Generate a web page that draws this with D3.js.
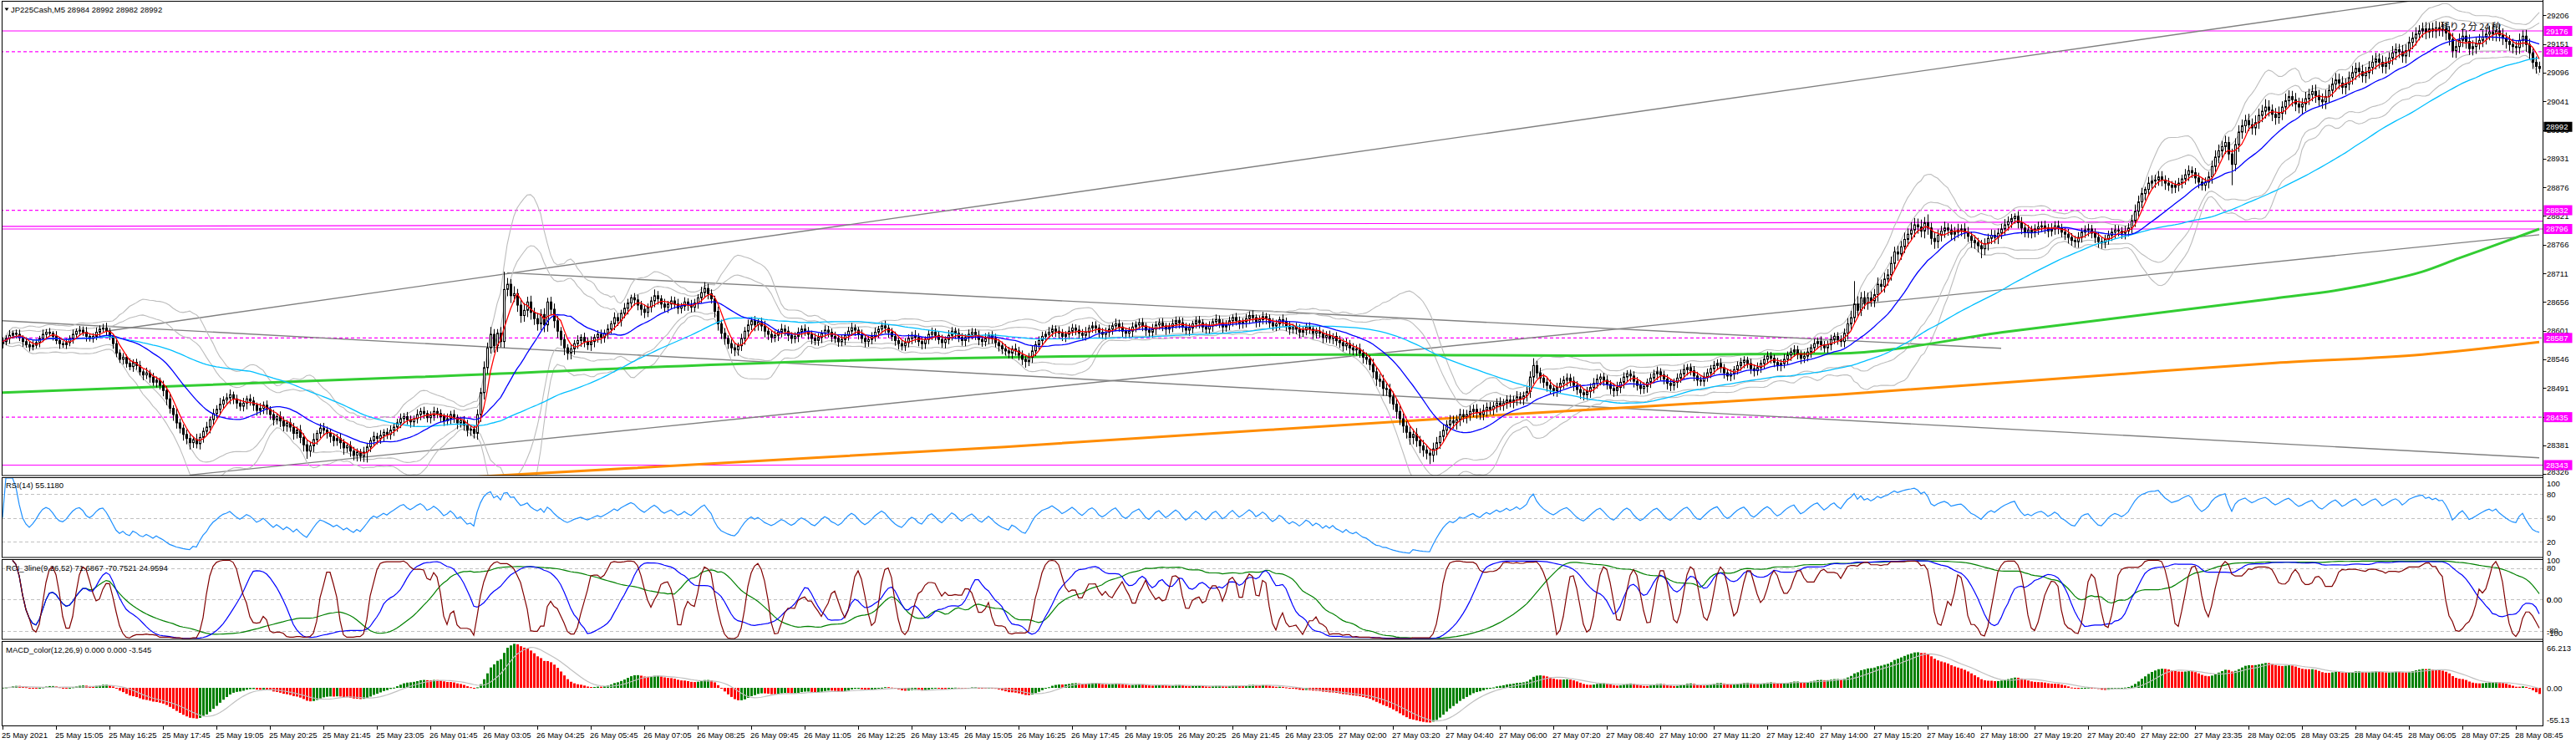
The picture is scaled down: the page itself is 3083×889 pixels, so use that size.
<!DOCTYPE html>
<html><head><meta charset="utf-8">
<script src="https://cdn.jsdelivr.net/npm/d3@7"></script>
<style>
body{margin:0;background:#fff;}
svg text{font-family:"Liberation Sans",Arial,sans-serif;font-size:9.5px;fill:#000;}
</style></head>
<body><svg id="c" width="3083" height="889"></svg>
<script>
// ---------------- DATA ----------------
const symbolHeader = "JP225Cash,M5  28984 28992 28982 28992";
const rsiHeader = "RSI(14) 55.1180";
const rciHeader = "RCI_3line(9,26,52) 71.6867 -70.7521 24.9594";
const macdHeader = "MACD_color(12,26,9) 0.000 0.000 -3.545";
const countdownText = "残り 2 分 24 秒";

const firstOpen = 28576;
const closes = [
28580,28586,28592,28596,28594,28588,28580,28574,28570,28573,
28578,28586,28594,28598,28596,28590,28582,28576,28574,28578,
28586,28594,28600,28602,28598,28590,28586,28590,28598,28604,
28606,28600,28590,28576,28558,28546,28550,28538,28532,28540,
28534,28522,28516,28520,28512,28502,28506,28496,28486,28470,
28452,28440,28424,28414,28402,28394,28386,28392,28384,28396,
28408,28416,28430,28442,28450,28460,28468,28472,28478,28470,
28462,28456,28462,28470,28466,28458,28448,28452,28458,28450,
28440,28430,28436,28428,28418,28424,28416,28404,28410,28396,
28382,28370,28380,28392,28404,28414,28410,28404,28398,28390,
28394,28386,28376,28380,28370,28362,28368,28360,28368,28378,
28390,28398,28394,28400,28406,28402,28410,28416,28424,28432,
28436,28430,28426,28432,28440,28446,28442,28434,28438,28446,
28442,28436,28428,28432,28440,28434,28424,28428,28420,28410,
28412,28404,28440,28482,28530,28568,28594,28572,28596,28580,
28680,28690,28668,28672,28650,28630,28640,28656,28636,28624,
28614,28632,28612,28656,28642,28620,28600,28584,28568,28558,
28566,28576,28582,28588,28580,28574,28580,28588,28594,28588,
28596,28604,28614,28626,28620,28634,28644,28654,28664,28660,
28650,28642,28636,28646,28658,28668,28662,28652,28646,28652,
28658,28652,28644,28648,28656,28650,28646,28654,28664,28674,
28682,28672,28662,28638,28614,28596,28586,28576,28568,28564,
28572,28586,28600,28612,28620,28612,28618,28610,28600,28594,
28588,28592,28598,28604,28600,28592,28586,28590,28598,28604,
28600,28594,28586,28582,28588,28596,28602,28598,28590,28586,
28580,28584,28592,28600,28606,28602,28594,28586,28580,28584,
28590,28598,28604,28610,28606,28598,28590,28582,28576,28572,
28578,28586,28592,28588,28580,28576,28584,28594,28598,28592,
28584,28578,28584,28592,28600,28596,28588,28582,28588,28594,
28598,28592,28584,28580,28586,28592,28586,28578,28572,28566,
28562,28558,28566,28562,28554,28546,28542,28550,28562,28574,
28582,28590,28594,28598,28604,28600,28596,28590,28594,28600,
28606,28602,28596,28592,28598,28606,28610,28606,28598,28594,
28598,28604,28610,28614,28608,28600,28596,28600,28608,28612,
28616,28610,28602,28598,28604,28612,28616,28610,28604,28608,
28614,28620,28616,28608,28602,28606,28614,28620,28616,28608,
28604,28610,28618,28622,28616,28608,28612,28620,28626,28620,
28614,28618,28624,28630,28626,28618,28622,28628,28624,28616,
28610,28614,28622,28618,28610,28604,28608,28604,28598,28602,
28608,28604,28596,28600,28596,28588,28592,28586,28590,28582,
28578,28572,28576,28568,28564,28566,28558,28550,28546,28536,
28522,28508,28504,28490,28488,28474,28460,28446,28432,28418,
28406,28396,28402,28390,28380,28372,28366,28362,28374,28386,
28398,28410,28420,28428,28424,28430,28440,28436,28440,28446,
28450,28444,28440,28448,28454,28450,28456,28462,28458,28462,
28468,28464,28468,28474,28470,28476,28484,28512,28534,28520,
28510,28502,28496,28490,28486,28492,28500,28506,28510,28504,
28496,28488,28482,28478,28484,28492,28500,28508,28512,28506,
28498,28490,28486,28492,28502,28512,28518,28514,28504,28496,
28490,28494,28502,28510,28518,28522,28516,28508,28500,28496,
28502,28510,28518,28526,28530,28524,28514,28506,28504,28512,
28520,28528,28534,28538,28530,28520,28514,28518,28526,28534,
28540,28544,28538,28528,28524,28530,28538,28546,28552,28548,
28540,28534,28538,28546,28554,28560,28564,28556,28548,28552,
28560,28568,28576,28580,28574,28568,28574,28584,28590,28584,
28580,28596,28614,28626,28652,28640,28664,28654,28664,28658,
28670,28690,28686,28700,28708,28730,28752,28748,28762,28776,
28786,28794,28804,28800,28792,28808,28798,28778,28772,28784,
28792,28798,28794,28786,28790,28794,28796,28790,28782,28774,
28770,28764,28758,28768,28778,28784,28780,28788,28796,28804,
28810,28816,28820,28808,28798,28790,28794,28790,28796,28800,
28802,28798,28792,28796,28802,28798,28790,28786,28780,28774,
28772,28780,28790,28794,28796,28788,28780,28772,28770,28776,
28784,28790,28794,28792,28788,28792,28798,28812,28830,28848,
28864,28872,28884,28888,28890,28896,28890,28884,28880,28876,
28880,28884,28892,28900,28908,28904,28894,28886,28880,28886,
28896,28916,28934,28946,28954,28962,28940,28920,28958,28982,
28994,29004,28996,28990,29000,29014,29022,29030,29024,29016,
29010,29018,29030,29042,29050,29044,29036,29030,29036,29046,
29054,29060,29052,29044,29040,29050,29062,29074,29082,29076,
29068,29074,29086,29096,29104,29098,29090,29096,29106,29116,
29122,29116,29108,29114,29124,29134,29140,29136,29128,29138,
29154,29162,29170,29176,29180,29174,29180,29176,29182,29178,
29180,29172,29160,29138,29146,29158,29166,29156,29142,29146,
29152,29158,29164,29170,29174,29170,29176,29168,29162,29156,
29150,29146,29144,29158,29166,29150,29134,29116,29108,29104
];
const upWick = [
8,6,10,5,7,9,4,8,6,10, 7,5,9,6,8,4,10,7,5,8, 6,9,5,8,7,10,4,6,9,7, 8,10,6,5,9,7,8,5,10,6,
7,9,5,10,6,8,7,5,9,8, 10,6,12,8,7,9,10,6,11,8, 7,10,6,9,8,12,7,9,10,6, 8,7,10,6,9,8,5,10,7,9,
6,9,7,10,8,6,9,8,7,10, 8,10,7,12,6,9,10,7,8,6, 9,10,7,6,9,8,7,6,10,8, 6,9,7,10,6,8,9,6,8,10,
7,9,8,6,10,7,9,6,8,9, 7,8,6,10,7,9,6,8,9,10, 8,7,10,9,12,10,14,10,8,12, 34,12,10,14,9,12,14,10,12,9,
11,10,12,8,10,11,9,8,10,7, 8,7,10,6,9,8,10,6,8,9, 7,9,6,10,8,7,10,8,6,9, 10,8,9,7,8,12,9,7,10,6,
9,8,10,6,9,7,10,8,7,11, 12,9,8,6,9,8,10,6,8,9, 6,9,8,10,7,9,6,8,10,7, 8,9,6,10,8,9,6,8,9,7,
9,8,7,10,8,6,9,8,7,9, 8,9,6,8,10,7,6,9,8,7, 8,9,6,7,10,7,8,9,6,8, 9,8,7,10,8,9,6,8,9,7,
8,9,6,10,8,7,9,8,6,9, 8,7,9,8,10,6,8,9,7,8, 9,8,6,10,8,9,6,8,10,7, 8,9,6,10,8,7,9,8,6,9,
8,7,9,8,10,6,8,9,7,8, 9,8,6,10,8,9,6,8,9,7, 8,9,6,7,10,7,8,9,6,8, 9,8,7,10,8,9,6,8,9,7,
8,9,6,10,8,7,9,8,6,9, 8,7,9,8,10,6,8,9,7,8, 9,8,6,10,8,9,6,8,9,7, 8,9,6,7,10,7,8,9,6,8,
9,8,10,7,9,8,10,7,9,8, 11,9,10,12,9,11,10,9,11,10, 9,11,10,12,9,11,10,9,12,11, 10,12,9,11,10,9,11,10,9,11,
9,10,8,11,9,10,8,9,11,8, 9,10,8,11,9,8,10,11,14,9, 10,8,9,11,8,9,10,8,9,8, 9,8,10,7,9,8,10,9,7,8,
9,8,10,11,8,9,7,8,9,8, 9,8,7,9,8,10,7,8,9,8, 7,9,8,10,7,8,9,8,7,9, 8,7,9,8,10,7,8,9,7,8,
9,8,7,9,8,10,7,8,9,8, 7,9,8,10,7,8,9,8,7,9, 8,7,9,8,10,7,8,9,7,8, 8,9,11,13,44,15,11,13,10,12,
11,13,9,12,11,13,10,12,11,13, 11,15,13,12,14,11,16,10,12,11, 10,12,9,11,10,12,9,11,10,9, 10,9,11,10,9,11,10,9,10,11,
10,9,6,10,11,9,10,8,9,10, 9,10,8,11,9,10,8,9,10,8, 9,10,8,9,10,8,9,10,8,9, 9,8,10,9,8,10,9,11,13,12,
11,5,12,11,10,11,11,9,10,8, 9,10,8,11,10,8,9,10,8,9, 10,11,13,12,11,13,11,10,12,13, 12,11,13,12,14,13,12,15,13,11,
12,13,11,14,12,11,13,12,11,13, 11,12,13,11,12,13,11,12,13,12, 13,11,12,13,11,12,13,11,12,13, 12,11,13,12,11,13,12,11,13,12,
11,12,13,11,12,13,11,12,13,11, 12,11,13,12,11,13,12,11,13,12, 11,12,13,11,12,13,11,12,13,11, 12,11,10,13,11,12,11,10,11,9
];
const dnWick = [
9,7,10,6,8,7,10,6,9,7, 6,9,7,10,6,8,7,10,6,8, 7,10,6,9,7,10,6,8,7,10, 6,9,7,10,8,7,10,8,7,10,
8,7,10,8,11,7,10,8,11,12, 10,12,11,10,12,11,13,10,9,11, 10,9,12,10,9,11,10,9,12,10, 11,9,10,12,9,11,10,9,11,10,
10,11,9,12,10,11,9,12,10,11, 13,15,11,12,10,9,11,10,12,11, 10,12,13,9,11,10,12,10,11,20, 10,9,11,10,12,9,10,11,9,10,
10,9,11,10,9,11,10,9,11,10, 9,11,10,9,11,10,12,9,11,12, 11,10,12,14,13,12,11,13,12,11, 12,13,14,12,13,14,12,13,14,12,
13,12,14,13,12,14,13,12,14,13, 12,11,10,12,11,10,12,11,10,12, 10,11,9,12,10,11,9,12,10,11, 10,12,11,9,10,12,11,9,10,11,
10,9,11,10,9,11,10,9,11,10, 10,11,9,12,13,11,12,10,11,12, 11,10,12,11,10,12,11,10,12,11, 10,9,11,10,9,11,10,9,11,10,
9,10,11,9,10,11,9,10,11,9, 10,9,11,10,9,11,10,9,11,10, 9,10,11,9,10,11,9,10,11,9, 10,9,11,10,9,11,10,9,11,10,
9,10,11,9,10,11,9,10,11,9, 10,9,11,10,9,11,10,9,11,10, 9,10,11,9,10,11,12,9,11,10, 10,9,11,10,9,11,10,9,11,10,
9,10,11,9,10,11,9,10,11,9, 10,9,11,10,9,11,10,9,11,10, 9,10,11,9,10,11,9,10,11,9, 10,9,11,10,9,11,10,9,11,10,
9,10,11,9,10,11,9,10,11,9, 10,9,11,10,9,11,10,9,11,10, 9,10,11,9,10,11,9,10,11,9, 10,9,11,10,9,11,10,9,11,10,
10,11,9,12,10,11,9,12,10,11, 12,13,11,14,12,13,11,14,12,13, 12,14,13,12,14,13,12,17,13,12, 12,11,13,12,11,13,12,11,13,12,
11,12,10,11,12,10,11,12,10,11, 11,10,12,11,10,12,11,12,13,11, 10,11,12,10,11,12,10,11,12,10, 11,10,12,11,10,12,11,10,12,11,
10,11,12,10,11,12,10,11,12,10, 11,10,12,11,10,12,11,10,12,11, 10,11,9,10,11,9,10,11,9,10, 9,10,11,9,10,11,9,10,11,9,
10,11,9,10,11,9,10,11,9,10, 9,10,11,9,10,11,9,10,11,9, 10,11,9,10,11,9,10,11,9,10, 10,11,12,13,12,13,11,12,13,11,
12,13,11,12,13,11,12,13,11,12, 13,12,14,13,12,14,13,12,14,13, 12,13,11,12,13,11,12,13,11,14, 12,13,18,12,13,11,12,13,11,12,
11,12,10,11,12,10,11,12,10,11, 10,11,12,10,11,12,10,11,12,10, 11,12,10,11,12,10,11,12,12,11, 10,11,12,10,11,12,10,11,12,10,
12,13,11,12,13,11,12,13,11,12, 11,12,10,11,12,10,11,12,10,11, 12,13,14,12,13,14,12,40,13,14, 13,14,12,13,14,12,13,14,12,13,
14,12,13,14,12,13,14,12,13,14, 12,13,14,12,13,14,12,13,14,12, 13,14,12,13,14,12,13,14,12,13, 14,12,13,14,12,13,14,12,13,14,
12,13,14,12,13,14,12,13,14,12, 13,14,12,13,14,12,13,14,12,13, 14,12,13,14,12,13,14,12,13,14, 12,13,14,12,13,14,12,13,14,8
];

// long moving averages: [bar, price]
const greenMA = [[0,28482],[124,28512],[249,28543],[400,28555],[470,28553],[549,28557],[600,28599],[680,28663],[700,28680],[712,28695],[724,28714],[735,28740],[748,28770],[759,28796]];
const orangeMA = [[0,28270],[146,28322],[300,28378],[450,28440],[549,28478],[628,28515],[680,28539],[724,28555],[759,28579]];

// trend lines [bar0, price0, bar1, price1]
const trendLines = [
  [31, 28600, 759, 29269],
  [151, 28712, 598, 28567],
  [0, 28620, 759, 28357],
  [56, 28324, 759, 28785]
];
const levelLines = [
  {p0:29176, p1:29176, dash:false, label:"29176"},
  {p0:29136, p1:29136, dash:true,  label:"29136"},
  {p0:28832, p1:28832, dash:true,  label:"28832"},
  {p0:28801, p1:28811, dash:false, label:null},
  {p0:28796, p1:28796, dash:false, label:"28796"},
  {p0:28587, p1:28587, dash:true,  label:"28587"},
  {p0:28435, p1:28435, dash:true,  label:"28435"},
  {p0:28343, p1:28343, dash:false, label:"28343"}
];
const currentPrice = 28992;
const priceTicks = [29206,29151,29096,29041,28986,28931,28876,28821,28766,28711,28656,28601,28546,28491,28436,28381,28326];
const timeLabels = ["25 May 2021","25 May 15:05","25 May 16:25","25 May 17:45","25 May 19:05","25 May 20:25","25 May 21:45","25 May 23:05",
"26 May 01:45","26 May 03:05","26 May 04:25","26 May 05:45","26 May 07:05","26 May 08:25","26 May 09:45","26 May 11:05","26 May 12:25",
"26 May 13:45","26 May 15:05","26 May 16:25","26 May 17:45","26 May 19:05","26 May 20:25","26 May 21:45","26 May 23:05",
"27 May 02:00","27 May 03:20","27 May 04:40","27 May 06:00","27 May 07:20","27 May 08:40","27 May 10:00","27 May 11:20","27 May 12:40",
"27 May 14:00","27 May 15:20","27 May 16:40","27 May 18:00","27 May 19:20","27 May 20:40","27 May 22:00","27 May 23:35",
"28 May 02:05","28 May 03:25","28 May 04:45","28 May 06:05","28 May 07:25","28 May 08:45"];
const barsPerLabel = 16;
const rsiLevels = [80,50,20];
const rsiAxis = [["100",100],["80",80],["50",50],["20",20],["0",0]];
const rciLevels = [80,0,-80];
const rciAxis = [["100",100,-6],["80",80,0],["0.00",0,0],["0",0,0],["-80",-80,0],["-100",-100,-6]];
const macdAxis = [["66.213",66.213,6],["0.00",0,0],["-55.13",-55.13,-7]];

// ---------------- SCALES ----------------
const N = closes.length;
const svg = d3.select("#c");
const x = d3.scaleLinear().domain([0,759]).range([3,3039]);
const y = d3.scaleLinear().domain([28326,29206]).range([567.1,18.3]);
const yRsi = d3.scaleLinear().domain([0,100]).range([667,572]);
const yRci = d3.scaleLinear().domain([-100,100]).range([764,670.5]);
const yMacd = d3.scaleLinear().domain([-55.13,66.213]).range([868,769]);
const AX = 3043.5;
const panels = {
  main:{y0:1.5,y1:569},
  rsi:{y0:571.5,y1:667},
  rci:{y0:669.5,y1:765},
  macd:{y0:767.5,y1:868.5}
};

// ---------------- INDICATORS ----------------
const opens = closes.map((c,i)=> i===0 ? firstOpen : closes[i-1]);
const highs = closes.map((c,i)=> Math.max(opens[i],c) + (upWick[i]||0));
const lows  = closes.map((c,i)=> Math.min(opens[i],c) - (dnWick[i]||0));
function sma(arr,n){ return arr.map((v,i)=>{ const s=Math.max(0,i-n+1); return d3.mean(arr.slice(s,i+1)); }); }
function sd(arr,n){ return arr.map((v,i)=>{ const s=Math.max(0,i-n+1); const w=arr.slice(s,i+1); const m=d3.mean(w); return Math.sqrt(d3.mean(w.map(t=>(t-m)*(t-m)))); }); }
const ma5 = sma(closes,5), ma21 = sma(closes,21), ma75 = sma(closes,75);
const sd21 = sd(closes,21);
const bands = [2,3].flatMap(k=>[ma21.map((m,i)=>m+k*sd21[i]), ma21.map((m,i)=>m-k*sd21[i])]);

const rsi=[]; { let ag=0, al=0;
  for(let i=0;i<N;i++){ if(i===0){rsi.push(50);continue;}
    const d=closes[i]-closes[i-1], g=Math.max(d,0), l=Math.max(-d,0);
    if(i<=14){ ag=(ag*(i-1)+g)/i; al=(al*(i-1)+l)/i; } else { ag=(ag*13+g)/14; al=(al*13+l)/14; }
    rsi.push(al===0?100:100-100/(1+ag/al)); } }
function rci(n){ return closes.map((c,i)=>{ const m=Math.min(n,i+1); if(m<4) return null;
  const w=closes.slice(i-m+1,i+1);
  const srt=w.map((v,j)=>({v,j})).sort((a,b)=>b.v-a.v); const pr=new Array(m);
  let k=0; while(k<m){ let e=k; while(e+1<m && srt[e+1].v===srt[k].v) e++; const r=(k+e)/2+1; for(let t=k;t<=e;t++) pr[srt[t].j]=r; k=e+1; }
  let s=0; for(let j=0;j<m;j++){ const d=(m-j)-pr[j]; s+=d*d; }
  return (1-6*s/(m*(m*m-1)))*100; }); }
const rci9=rci(9), rci26=rci(26), rci52=rci(52);
let e12=closes[0], e26=closes[0];
const macd = closes.map(c=>{ e12+=2/13*(c-e12); e26+=2/27*(c-e26); return e12-e26; });
const macdSig = sma(macd,9);

// ---------------- DRAW ----------------
const defs = svg.append("defs");
Object.entries(panels).forEach(([k,p])=>{
  defs.append("clipPath").attr("id","clip-"+k).append("rect").attr("x",2.5).attr("y",p.y0).attr("width",AX-2.5).attr("height",p.y1-p.y0);
});
const gMain = svg.append("g").attr("clip-path","url(#clip-main)");

levelLines.forEach(l=>{
  gMain.append("line").attr("x1",x(0)-3).attr("x2",AX).attr("y1",y(l.p0)).attr("y2",y(l.p1))
    .attr("stroke","#ff00ff").attr("stroke-width",1.2).attr("stroke-dasharray",l.dash?"4,3":null);
});
trendLines.forEach(t=>{
  gMain.append("line").attr("x1",x(t[0])).attr("y1",y(t[1])).attr("x2",x(t[2])).attr("y2",y(t[3]))
    .attr("stroke","#808080").attr("stroke-width",1.4);
});
const lineI = (arr,ys)=>d3.line().defined(d=>d!=null).x((d,i)=>x(i)).y(d=>ys(d))(arr);
bands.forEach(b=> gMain.append("path").attr("d",lineI(b,y)).attr("fill","none").attr("stroke","#bcbcbc").attr("stroke-width",1.1));
const lineP = d3.line().x(d=>x(d[0])).y(d=>y(d[1])).curve(d3.curveMonotoneX);
gMain.append("path").attr("d",lineP(orangeMA)).attr("fill","none").attr("stroke","#ff8c00").attr("stroke-width",3);
gMain.append("path").attr("d",lineP(greenMA)).attr("fill","none").attr("stroke","#32cd32").attr("stroke-width",3);

const cg = gMain.append("g");
for(let i=0;i<N;i++){
  const cx = Math.round(x(i));
  cg.append("line").attr("x1",cx+0.5).attr("x2",cx+0.5).attr("y1",y(highs[i])).attr("y2",y(lows[i])).attr("stroke","#000").attr("stroke-width",1);
  const top=y(Math.max(opens[i],closes[i])), bot=y(Math.min(opens[i],closes[i]));
  if(closes[i]>opens[i]){
    cg.append("rect").attr("x",cx-0.5).attr("y",top).attr("width",2).attr("height",Math.max(1,bot-top)).attr("fill","#fff").attr("stroke","#000").attr("stroke-width",1);
  } else {
    cg.append("rect").attr("x",cx-1).attr("y",top-0.5).attr("width",3).attr("height",Math.max(1,bot-top+1)).attr("fill","#000");
  }
}
gMain.append("path").attr("d",lineI(ma75,y)).attr("fill","none").attr("stroke","#00bfff").attr("stroke-width",1.3);
gMain.append("path").attr("d",lineI(ma21,y)).attr("fill","none").attr("stroke","#0000ff").attr("stroke-width",1.3);
gMain.append("path").attr("d",lineI(ma5,y)).attr("fill","none").attr("stroke","#ff0000").attr("stroke-width",1.3);

svg.append("text").attr("x",2993).attr("y",36).attr("text-anchor","end")
  .style("font-family","'Noto Sans CJK JP',sans-serif").style("font-size","11px").text(countdownText);

const gRsi = svg.append("g").attr("clip-path","url(#clip-rsi)");
rsiLevels.forEach(v=> gRsi.append("line").attr("x1",2).attr("x2",AX).attr("y1",Math.round(yRsi(v))+0.5).attr("y2",Math.round(yRsi(v))+0.5).attr("stroke","#c0c0c0").attr("stroke-dasharray","4,3"));
gRsi.append("path").attr("d",lineI(rsi,yRsi)).attr("fill","none").attr("stroke","#1e90ff").attr("stroke-width",1.2);

const gRci = svg.append("g").attr("clip-path","url(#clip-rci)");
rciLevels.forEach(v=> gRci.append("line").attr("x1",2).attr("x2",AX).attr("y1",Math.round(yRci(v))+0.5).attr("y2",Math.round(yRci(v))+0.5).attr("stroke","#c0c0c0").attr("stroke-dasharray","4,3"));
gRci.append("path").attr("d",lineI(rci52,yRci)).attr("fill","none").attr("stroke","#008000").attr("stroke-width",1.2);
gRci.append("path").attr("d",lineI(rci26,yRci)).attr("fill","none").attr("stroke","#0000ff").attr("stroke-width",1.2);
gRci.append("path").attr("d",lineI(rci9,yRci)).attr("fill","none").attr("stroke","#800000").attr("stroke-width",1.2);

const gMacd = svg.append("g").attr("clip-path","url(#clip-macd)");
macd.forEach((v,i)=>{
  const cx=Math.round(x(i));
  const up = i===0 ? true : v>=macd[i-1];
  const y0=yMacd(0), y1=yMacd(v);
  gMacd.append("rect").attr("x",cx-1).attr("width",3).attr("y",Math.min(y0,y1)).attr("height",Math.max(1,Math.abs(y1-y0)))
    .attr("fill",up?"#008000":"#ff0000");
});
gMacd.append("path").attr("d",lineI(macdSig,yMacd)).attr("fill","none").attr("stroke","#c0c0c0").attr("stroke-width",1.2);

Object.values(panels).forEach(p=>{
  svg.append("rect").attr("x",2.5).attr("y",p.y0).attr("width",AX-2.5).attr("height",p.y1-p.y0).attr("fill","none").attr("stroke","#000").attr("stroke-width",1);
});
svg.append("line").attr("x1",AX).attr("x2",AX).attr("y1",0).attr("y2",869).attr("stroke","#000");

svg.append("path").attr("d","M5.5,9.5 L10.5,9.5 L8,13 Z").attr("fill","#000");
svg.append("text").attr("x",13).attr("y",15).text(symbolHeader);
svg.append("text").attr("x",7).attr("y",584).text(rsiHeader);
svg.append("text").attr("x",7).attr("y",682.5).text(rciHeader);
svg.append("text").attr("x",7).attr("y",780.5).text(macdHeader);

priceTicks.forEach(v=>{
  const yy=y(v);
  svg.append("line").attr("x1",AX).attr("x2",AX+4).attr("y1",Math.round(yy)+0.5).attr("y2",Math.round(yy)+0.5).attr("stroke","#000");
  svg.append("text").attr("x",3048).attr("y",Math.min(yy+3.5,568)).text(v);
});
levelLines.filter(l=>l.label).forEach(l=>{
  const yy=y(l.p1);
  svg.append("rect").attr("x",AX+1).attr("y",yy-6).attr("width",34).attr("height",12).attr("fill","#ff00ff");
  svg.append("text").attr("x",3047).attr("y",yy+3.5).style("fill","#fff").text(l.label);
});
{ const yy=y(currentPrice);
  svg.append("rect").attr("x",AX+1).attr("y",yy-6).attr("width",34).attr("height",12).attr("fill","#000");
  svg.append("text").attr("x",3047).attr("y",yy+3.5).style("fill","#fff").text(currentPrice); }

rsiAxis.forEach(([t,v])=>{ const yy=Math.min(Math.max(yRsi(v),578),661); svg.append("text").attr("x",3048).attr("y",yy+3.5).text(t); });
rciAxis.forEach(([t,v,o])=>{ svg.append("text").attr("x",3048).attr("y",yRci(v)+3.5+o+(v===100?5.5:0)+(v===-100?-0.5:0)).text(t); });
macdAxis.forEach(([t,v,o])=>{ svg.append("text").attr("x",3048).attr("y",yMacd(v)+3.5+o).text(t); });

timeLabels.forEach((t,k)=>{
  const xx=Math.round(x(k*barsPerLabel));
  svg.append("line").attr("x1",xx+0.5).attr("x2",xx+0.5).attr("y1",868).attr("y2",873).attr("stroke","#000");
  svg.append("text").attr("x",xx-1).attr("y",883).text(t);
});
</script></body></html>
